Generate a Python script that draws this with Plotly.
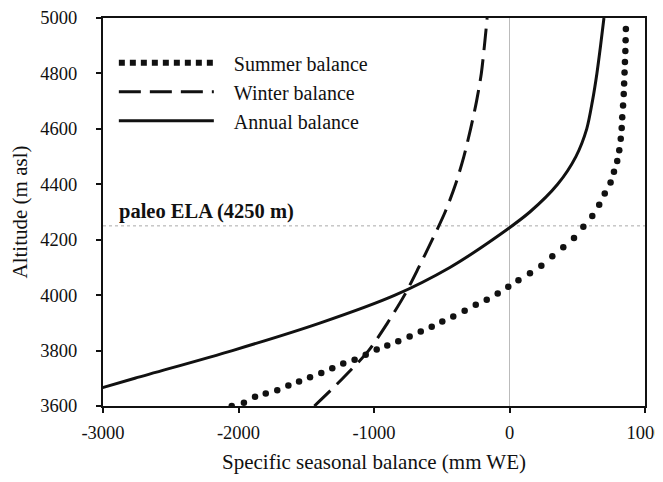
import plotly.graph_objects as go

# ---- data ----
altitude = [3600, 3700, 3800, 3900, 4000, 4100, 4200, 4300, 4400, 4500, 4600, 4700, 4800, 4900, 5000]
winter_balance = [-1440, -1230, -1040, -900, -775, -670, -570, -475, -398, -337, -287, -243, -208, -185, -165]
annual_balance = [-3470, -2765, -2045, -1395, -845, -440, -125, 150, 355, 490, 570, 612, 645, 672, 697]

summer_x = [-2050, -1960, -1878, -1799, -1714, -1632, -1553, -1472, -1389, -1308, -1227, -1143,
            -1061, -980, -902, -821, -737, -655, -574, -496, -415, -331, -249, -168, -87, -9,
            66, 151, 235, 316, 397, 476, 545, 611, 662, 703, 746, 771, 795, 810, 821, 828,
            832, 838, 843, 846, 849, 852, 855, 857, 859]
summer_y = [3600, 3612, 3633, 3645, 3657, 3674, 3688, 3704, 3719, 3736, 3753, 3767,
            3785, 3804, 3818, 3834, 3851, 3869, 3886, 3905, 3923, 3944, 3965, 3983, 4006, 4030,
            4054, 4079, 4106, 4140, 4173, 4206, 4247, 4286, 4326, 4367, 4406, 4445, 4484, 4523, 4564, 4603,
            4642, 4684, 4726, 4764, 4803, 4841, 4881, 4920, 4960]

paleo_ela = 4250
x_ticks = [-3000, -2000, -1000, 0, 1000]
y_ticks = [3600, 3800, 4000, 4200, 4400, 4600, 4800, 5000]

FONT = "Liberation Serif"
INK = "#111111"
PAD = "\u00a0\u00a0\u00a0"

fig = go.Figure()

# Summer balance: round dots
fig.add_trace(go.Scatter(
    x=summer_x, y=summer_y, mode="markers",
    marker=dict(size=6.5, color=INK, line=dict(width=0)),
    name="Summer balance", legendgroup="s", showlegend=False,
))
fig.add_trace(go.Scatter(
    x=[None], y=[None], mode="lines",
    line=dict(color=INK, width=6, dash="6px,5px"),
    name=PAD + "Summer balance", legendgroup="s",
))
fig.add_trace(go.Scatter(
    x=winter_balance, y=altitude, mode="lines",
    line=dict(color=INK, width=3, dash="22px,9px", shape="spline", smoothing=0.8),
    name=PAD + "Winter balance",
))
fig.add_trace(go.Scatter(
    x=annual_balance, y=altitude, mode="lines",
    line=dict(color=INK, width=3, shape="spline", smoothing=0.8),
    name=PAD + "Annual balance",
))

fig.add_shape(type="line", xref="paper", x0=0, x1=1, yref="y", y0=paleo_ela, y1=paleo_ela,
              line=dict(color="#aaaaaa", width=1, dash="dot"), layer="below")
fig.add_annotation(x=-2895, y=paleo_ela, xref="x", yref="y", xanchor="left", yanchor="bottom",
                   yshift=1, showarrow=False, text=f"<b>paleo ELA ({paleo_ela} m)</b>",
                   font=dict(family=FONT, size=20.5, color=INK))

axis_common = dict(
    showline=True, linecolor=INK, linewidth=2, mirror=True,
    ticks="outside", ticklen=5, tickwidth=1.5, tickcolor=INK,
    showgrid=False, automargin=False, ticklabeloverflow="allow",
    tickfont=dict(family=FONT, size=18.5, color=INK),
)

fig.update_xaxes(range=[-3000, 1000], tickvals=x_ticks, ticktext=[str(v) for v in x_ticks],
                 zeroline=True, zerolinecolor="#bbbbbb", zerolinewidth=1,
                 title=dict(text="Specific seasonal balance (mm WE)", standoff=12,
                            font=dict(family=FONT, size=21, color=INK)),
                 ticklabelstandoff=4,
                 **axis_common)
fig.update_yaxes(range=[3600, 5000], tickvals=y_ticks, ticktext=[str(v) for v in y_ticks],
                 zeroline=False,
                 title=dict(text="Altitude (m asl)", standoff=7,
                            font=dict(family=FONT, size=21, color=INK)),
                 ticklabelstandoff=15,
                 **axis_common)

# page body has an 8px margin: figure is offset so the plot lands where the reference has it
fig.update_layout(
    width=655, height=466,
    margin=dict(l=95, r=18, t=10, b=68),
    paper_bgcolor="white", plot_bgcolor="white",
    font=dict(family=FONT, size=20, color=INK),
    showlegend=True,
    legend=dict(x=0.02, y=0.935, xanchor="left", yanchor="top",
                bgcolor="rgba(0,0,0,0)", borderwidth=0,
                itemwidth=95, tracegroupgap=0,
                font=dict(family=FONT, size=20, color=INK)),
)

fig.write_html("out.html")
